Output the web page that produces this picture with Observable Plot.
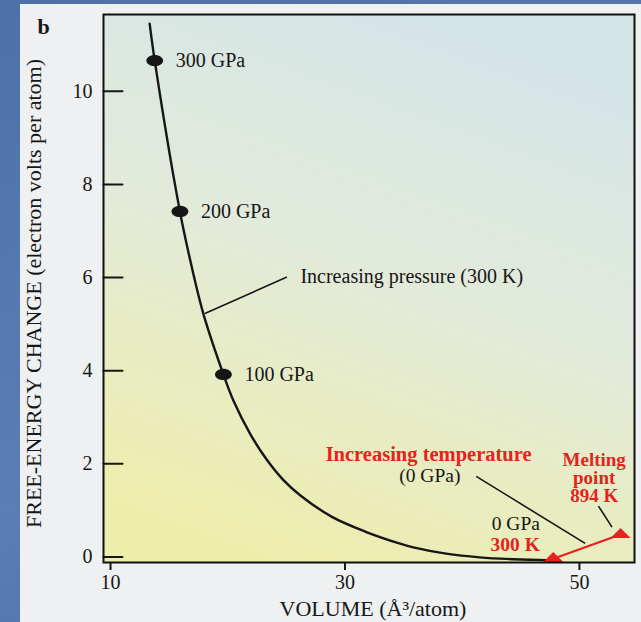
<!DOCTYPE html>
<html>
<head>
<meta charset="utf-8">
<script src="https://cdn.jsdelivr.net/npm/d3@7"></script>
<script src="https://cdn.jsdelivr.net/npm/@observablehq/plot@0.6"></script>
<style>
  html, body { margin: 0; padding: 0; width: 641px; height: 622px; overflow: hidden; }
  body { background: linear-gradient(160deg, #4c71a8, #5a7fb4 60%, #4a6ea4); }
  #page { position: absolute; left: 20px; top: 4px; width: 621px; height: 618px; background: #eef0f1; }
  #chart { position: absolute; left: 0; top: 0; }
</style>
</head>
<body>
<div id="page"></div>
<div id="chart"></div>
<script>
// Free-energy change of ice vs. volume along the 300 K compression path
const volume = [13.34, 13.77, 15.92, 16.80, 17.91, 19.63, 20.48, 21.90, 23.35, 24.75,
                26.20, 28.89, 31.77, 34.63, 35.74, 38.63, 41.49, 44.32, 47.20, 47.77];
const energy = [11.45, 10.66, 7.42, 6.37, 5.23, 3.92, 3.36, 2.65, 2.08, 1.65,
                1.32, 0.86, 0.54, 0.29, 0.21, 0.07, -0.01, -0.05, -0.07, -0.07];

// Marked pressures on the curve
const pressureLabels = ["300 GPa", "200 GPa", "100 GPa"];
const pressureVolume = [13.77, 15.92, 19.63];
const pressureEnergy = [10.66, 7.42, 3.92];

// Heating at 0 GPa: from 300 K up to the melting point (894 K)
const heatingVolume = [47.77, 53.51];
const heatingEnergy = [-0.04, 0.48];

// Leader lines tying notes to the curve
const leaderX1 = [18.05, 41.20, 51.63];
const leaderY1 = [5.23, 1.73, 1.09];
const leaderX2 = [25.05, 50.49, 52.78];
const leaderY2 = [6.01, 0.29, 0.64];

const xTicks = [10, 30, 50];
const yTicks = [0, 2, 4, 6, 8, 10];

const ink = "#161616";
const red = "#e5231c";
const serif = "'Liberation Serif', 'DejaVu Serif', serif";

// Flattened marker shapes
const ellipse = {
  draw(ctx, size) {
    const r = Math.sqrt(size / Math.PI), rx = 1.5 * r, ry = r, k = 0.5523;
    ctx.moveTo(rx, 0);
    ctx.bezierCurveTo(rx, k * ry, k * rx, ry, 0, ry);
    ctx.bezierCurveTo(-k * rx, ry, -rx, k * ry, -rx, 0);
    ctx.bezierCurveTo(-rx, -k * ry, -k * rx, -ry, 0, -ry);
    ctx.bezierCurveTo(k * rx, -ry, rx, -k * ry, rx, 0);
    ctx.closePath();
  }
};
const flatTriangle = {
  draw(ctx, size) {
    const r = Math.sqrt(size / Math.PI), h = r;
    ctx.moveTo(-r, h / 3);
    ctx.lineTo(r, h / 3);
    ctx.lineTo(0, -2 * h / 3);
    ctx.closePath();
  }
};
// Plain stroke used for the inward-pointing y ticks
const stub = {
  draw(ctx, l) {
    ctx.moveTo(0, 0);
    ctx.lineTo(0, -l);
  }
};

const curve = volume.map((v, i) => ({v, e: energy[i]}));
const pressures = pressureLabels.map((label, i) => ({label, v: pressureVolume[i], e: pressureEnergy[i]}));
const heating = heatingVolume.map((v, i) => ({v, e: heatingEnergy[i]}));
const leaders = leaderX1.map((x1, i) => ({x1, y1: leaderY1[i], x2: leaderX2[i], y2: leaderY2[i]}));

const chart = Plot.plot({
  width: 641,
  height: 622,
  marginLeft: 103,
  marginTop: 14,
  marginRight: 7,
  marginBottom: 60,
  style: {background: "transparent", fontFamily: serif, color: ink, overflow: "visible"},
  x: {domain: [9.4, 54.7]},
  y: {domain: [-0.12, 11.65]},
  marks: [
    Plot.frame({fill: "url(#plotFill)", stroke: "none"}),
    Plot.vector(yTicks, {y: d => d, frameAnchor: "left", length: 19, rotate: 90, anchor: "start",
      shape: stub, stroke: ink, strokeWidth: 2}),
    Plot.axisY({ticks: yTicks, tickSize: 0, tickPadding: 11, fontSize: 20, label: null}),
    Plot.axisX({ticks: xTicks, tickSize: 8, strokeWidth: 2, tickPadding: 4, fontSize: 20, label: null}),
    Plot.text(["FREE-ENERGY CHANGE (electron volts per atom)"], {
      frameAnchor: "left", textAnchor: "middle", lineAnchor: "middle",
      rotate: -90, dx: -70, dy: 5, fontSize: 22, fill: ink
    }),
    Plot.text(["VOLUME (Å³/atom)"], {
      frameAnchor: "bottom", textAnchor: "middle", lineAnchor: "middle",
      dx: 4, dy: 46, fontSize: 22, fill: ink
    }),
    Plot.link(leaders, {x1: "x1", y1: "y1", x2: "x2", y2: "y2", stroke: ink, strokeWidth: 1.6}),
    Plot.line(curve, {x: "v", y: "e", curve: "catmull-rom", stroke: ink, strokeWidth: 2.4}),
    Plot.dot(pressures, {x: "v", y: "e", r: 5.6, symbol: ellipse, fill: ink, stroke: "none"}),
    Plot.text(pressures, {x: "v", y: "e", text: "label", dx: 21, textAnchor: "start", fontSize: 20, fill: ink}),
    Plot.link([heating], {
      x1: d => d[1].v, y1: d => d[1].e, x2: d => d[0].v, y2: d => d[0].e,
      stroke: red, strokeWidth: 2.2
    }),
    Plot.dot(heating, {x: "v", y: "e", r: 10, symbol: flatTriangle, fill: red, stroke: "none"}),
    Plot.text(["Increasing pressure (300 K)"], {x: 26.2, y: 6.02, textAnchor: "start", fontSize: 20, fill: ink}),
    Plot.text(["Increasing temperature"], {x: 28.35, y: 2.21, textAnchor: "start", fontSize: 20.5, fontWeight: "bold", fill: red}),
    Plot.text(["(0 GPa)"], {x: 34.63, y: 1.74, textAnchor: "start", fontSize: 19.5, fill: ink}),
    Plot.text(["Melting\npoint\n894 K"], {x: 51.26, y: 1.69, textAnchor: "middle", lineHeight: 0.93, fontSize: 19, fontWeight: "bold", fill: red}),
    Plot.text(["0 GPa"], {x: 46.63, y: 0.71, textAnchor: "end", fontSize: 19.5, fill: ink}),
    Plot.text(["300 K"], {x: 46.63, y: 0.26, textAnchor: "end", fontSize: 19.5, fontWeight: "bold", fill: red}),
    Plot.text(["b"], {frameAnchor: "top-left", dx: -66, dy: 4, fontSize: 22, fontWeight: "bold", fill: ink}),
    Plot.frame({stroke: "#111", strokeWidth: 2})
  ]
});

// Soft blue-to-yellow wash behind the plotting area
const ns = "http://www.w3.org/2000/svg";
const defs = document.createElementNS(ns, "defs");
const grad = document.createElementNS(ns, "linearGradient");
grad.setAttribute("id", "plotFill");
grad.setAttribute("x1", "0.65"); grad.setAttribute("y1", "0");
grad.setAttribute("x2", "0.3"); grad.setAttribute("y2", "1");
[["0", "#d4e5e8"], ["0.45", "#e2eadb"], ["1", "#eeeeab"]].forEach(([o, c]) => {
  const s = document.createElementNS(ns, "stop");
  s.setAttribute("offset", o);
  s.setAttribute("stop-color", c);
  grad.appendChild(s);
});
defs.appendChild(grad);
chart.insertBefore(defs, chart.firstChild);

document.getElementById("chart").appendChild(chart);
</script>
</body>
</html>
